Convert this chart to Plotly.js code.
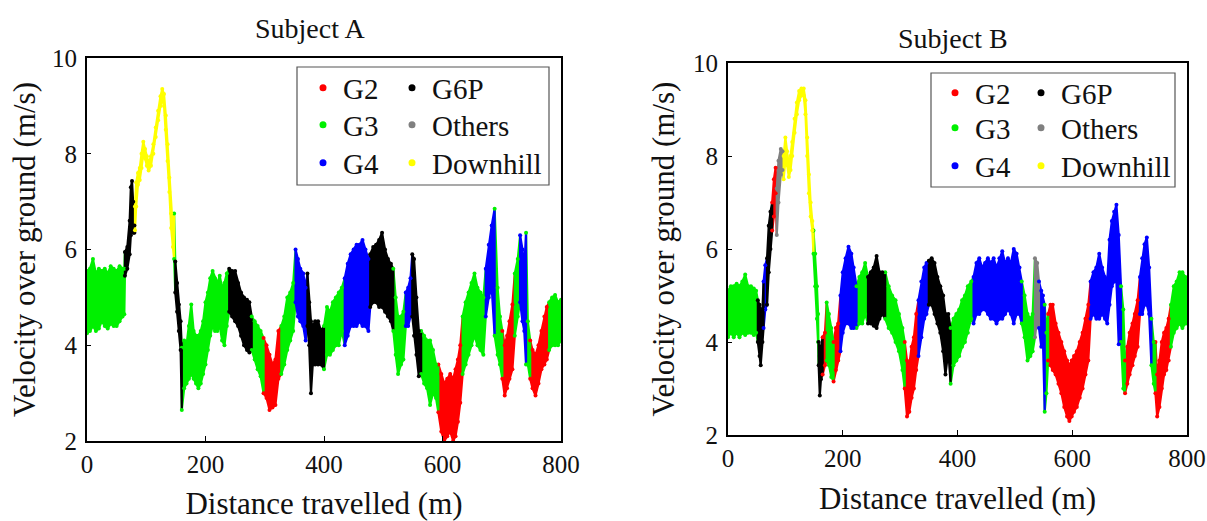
<!DOCTYPE html>
<html>
<head>
<meta charset="utf-8">
<script src="https://cdn.plot.ly/plotly-3.0.1.min.js"></script>
<style>
html,body{margin:0;padding:0;background:#ffffff;}
#chart{width:1207px;height:521px;}
</style>
</head>
<body>
<div id="chart"></div>
<script>
// ---------------- DATA ----------------
const gearNames = ['G2', 'G3', 'G4', 'G6P', 'Others', 'Downhill'];
const xTicks = [0, 200, 400, 600, 800];
const yTicks = [2, 4, 6, 8, 10];

// Subject A: distance (m), lower / upper velocity band (m/s), gear per sample
const A_dist = [
  0,5,10,15,20,25,30,35,40,45,50,55,60,63,
  64,68,72,74,76,78,80,
  81,83,86,89,92,95,98,101,104,108,112,116,120,124,127,130,133,136,139,142,145,
  147,
  149,152,155,158,
  160,164,168,172,176,180,184,188,192,196,200,204,208,212,216,220,224,228,232,236,
  240,245,250,255,260,265,270,274,
  278,283,288,293,
  298,303,308,313,318,323,
  328,333,338,343,348,
  352,356,360,365,369,
  372,375,378,381,385,390,395,
  400,405,410,415,420,425,430,
  435,440,445,450,455,460,465,470,475,
  478,483,488,493,498,503,508,513,
  517,521,525,530,534,
  538,542,546,
  549,552,556,560,
  564,569,574,579,584,589,
  593,598,603,608,613,618,622,626,630,
  634,639,644,649,654,659,664,669,
  673,678,683,
  688,693,697,
  701,705,709,713,718,
  722,727,
  731,735,738,
  741,744,
  748,752,757,762,767,772,776,
  780,785,790,795,800
];
const A_low = [
  4.25,4.3,4.4,4.3,4.35,4.5,4.4,4.35,4.45,4.4,4.4,4.5,4.6,4.65,
  5.45,5.6,5.9,6.3,6.5,6.35,6.35,
  6.4,6.9,7.35,7.45,7.7,8.0,7.9,7.75,7.65,7.75,8.0,8.35,8.7,9.0,9.15,9.0,8.5,7.85,7.2,6.45,6.05,
  5.8,
  5.1,4.7,4.3,3.9,
  2.65,3.1,3.2,3.3,3.4,3.3,3.2,3.1,3.2,3.4,3.6,3.9,4.2,4.4,4.3,4.3,4.4,4.1,4.0,4.4,
  4.7,4.6,4.5,4.4,4.2,4.0,3.9,3.85,
  3.9,3.7,3.5,3.35,
  3.0,2.9,2.65,2.7,2.75,3.3,
  3.4,3.6,3.9,4.1,4.3,
  4.9,4.6,4.5,4.4,4.1,
  4.4,4.0,3.0,3.6,3.6,3.6,3.6,
  3.5,3.8,3.8,3.9,4.0,4.0,4.3,
  4.0,4.2,4.4,4.4,4.4,4.5,4.4,4.4,4.3,
  4.8,4.9,4.9,4.8,4.8,4.7,4.6,4.5,
  4.3,3.8,3.4,3.6,3.7,
  4.4,4.4,4.6,
  4.6,4.2,3.8,3.35,
  3.4,3.2,3.1,2.75,3.0,2.9,
  2.6,2.2,2.0,2.1,2.2,2.0,2.1,2.4,2.8,
  3.4,3.6,3.8,4.0,4.2,4.0,3.9,3.8,
  4.6,5.0,5.2,
  4.2,3.8,3.6,
  3.3,2.95,3.1,3.3,3.5,
  4.2,4.6,
  4.9,4.5,4.3,
  3.6,3.6,
  3.3,3.1,2.95,3.2,3.5,3.6,3.7,
  3.9,4.0,4.0,4.0,4.1
];
const A_high = [
  5.55,5.6,5.8,5.5,5.6,5.55,5.6,5.5,5.65,5.6,5.55,5.65,5.6,5.6,
  5.95,6.05,6.6,7.3,7.43,7.0,6.5,
  6.9,7.4,7.6,7.7,8.0,8.25,8.1,7.95,7.8,7.95,8.2,8.55,8.9,9.2,9.35,9.25,8.8,8.2,7.5,6.75,6.4,
  6.75,
  5.75,5.3,4.85,4.5,
  3.95,4.1,4.0,4.4,4.85,4.3,4.2,4.2,4.3,4.5,4.9,5.1,5.4,5.55,5.4,5.3,5.45,5.2,5.3,5.5,
  5.6,5.55,5.55,5.3,5.1,5.0,4.95,4.9,
  4.6,4.5,4.4,4.3,
  4.15,4.0,3.8,3.6,3.7,4.3,
  4.4,4.6,5.0,5.1,5.3,
  6.0,5.8,5.6,5.5,5.2,
  5.5,4.9,4.5,4.4,4.5,4.5,4.3,
  4.4,4.8,4.7,4.9,5.0,5.1,5.2,
  5.4,5.7,5.9,6.0,6.1,6.1,6.2,6.0,5.8,
  5.9,6.05,6.1,6.2,6.35,6.0,5.8,5.7,
  5.6,5.0,4.6,4.6,4.7,
  5.1,5.2,5.4,
  5.9,5.8,5.0,4.3,
  4.3,4.2,4.1,4.1,3.9,3.6,
  3.6,3.4,3.2,3.3,3.4,3.3,3.5,3.7,4.0,
  4.6,4.9,5.1,5.3,5.5,5.2,5.1,5.0,
  5.6,6.1,6.5,
  6.85,5.2,4.6,
  4.3,4.0,4.2,4.5,4.85,
  5.5,5.8,
  6.3,6.0,5.6,
  6.35,4.5,
  4.1,3.9,3.8,4.0,4.3,4.6,4.8,
  4.9,5.0,5.05,4.9,4.95
];
const A_gear = [
  'G3','G3','G3','G3','G3','G3','G3','G3','G3','G3','G3','G3','G3','G3',
  'G6P','G6P','G6P','G6P','G6P','G6P','G6P',
  'Downhill','Downhill','Downhill','Downhill','Downhill','Downhill','Downhill','Downhill','Downhill','Downhill','Downhill','Downhill','Downhill','Downhill','Downhill','Downhill','Downhill','Downhill','Downhill','Downhill','Downhill',
  'G3',
  'G6P','G6P','G6P','G6P',
  'G3','G3','G3','G3','G3','G3','G3','G3','G3','G3','G3','G3','G3','G3','G3','G3','G3','G3','G3','G3',
  'G6P','G6P','G6P','G6P','G6P','G6P','G6P','G6P',
  'G3','G3','G3','G3',
  'G2','G2','G2','G2','G2','G2',
  'G3','G3','G3','G3','G3',
  'G4','G4','G4','G4','G4',
  'G6P','G6P','G6P','G6P','G6P','G6P','G6P',
  'G3','G3','G3','G3','G3','G3','G3',
  'G4','G4','G4','G4','G4','G4','G4','G4','G4',
  'G6P','G6P','G6P','G6P','G6P','G6P','G6P','G6P',
  'G3','G3','G3','G3','G3',
  'G4','G4','G4',
  'G6P','G6P','G6P','G6P',
  'G3','G3','G3','G3','G3','G3',
  'G2','G2','G2','G2','G2','G2','G2','G2','G2',
  'G3','G3','G3','G3','G3','G3','G3','G3',
  'G4','G4','G4',
  'G3','G3','G3',
  'G2','G2','G2','G2','G2',
  'G3','G3',
  'G4','G4','G4',
  'G3','G3',
  'G2','G2','G2','G2','G2','G2','G2',
  'G3','G3','G3','G3','G3'
];

// Subject B
const B_dist = [
  0,5,10,15,20,25,30,35,40,45,49,
  52,55,57,60,
  62,65,
  68,71,74,
  77,80,83,
  85,88,92,95,
  97,100,103,106,109,112,116,120,124,128,132,135,138,141,144,147,
  149,152,155,157,
  158,160,162,
  165,169,
  172,176,180,
  184,188,192,
  196,200,205,210,215,219,
  224,229,234,239,
  244,249,254,259,264,269,
  274,280,286,292,298,304,
  308,312,316,320,324,328,
  332,337,342,346,
  350,355,360,365,370,375,379,384,
  388,393,398,403,408,413,418,424,
  428,433,438,443,448,453,458,463,468,473,478,483,488,493,498,503,508,
  512,517,522,527,531,
  535,539,
  542,546,549,
  552,555,
  558,562,566,571,576,581,586,591,595,599,603,608,613,618,623,628,
  632,637,642,647,652,657,661,665,669,673,677,681,
  685,689,
  692,696,700,705,709,714,
  718,722,726,730,734,
  738,742,
  745,748,752,756,760,764,768,
  772,777,782,787,792,797,800
];
const B_low = [
  4.1,4.2,4.1,4.2,4.1,4.2,4.15,4.2,4.2,4.15,4.2,
  4.0,3.7,3.5,4.0,
  4.3,4.7,
  4.8,5.5,6.0,
  6.4,6.7,7.2,
  6.3,7.0,7.6,7.7,
  7.5,7.9,7.8,7.55,7.7,8.0,8.5,8.9,9.2,9.3,9.3,8.9,8.0,7.2,6.7,6.4,
  5.9,5.2,4.5,4.0,
  3.5,2.85,3.2,
  3.3,3.5,
  3.6,3.5,3.25,
  3.15,3.4,3.6,
  3.8,4.2,4.4,4.4,4.3,4.3,
  4.3,4.4,4.4,4.6,
  4.4,4.4,4.35,4.3,4.5,4.6,
  4.5,4.3,4.2,4.0,3.8,3.4,
  3.0,2.4,2.5,2.8,3.0,3.4,
  3.7,4.1,4.5,4.6,
  4.8,4.8,4.6,4.4,4.2,3.8,3.3,3.8,
  3.1,3.5,3.6,3.7,3.9,4.0,4.2,4.5,
  4.4,4.6,4.6,4.7,4.7,4.6,4.5,4.5,4.4,4.5,4.5,4.6,4.7,4.6,4.4,4.6,4.6,
  4.4,4.1,3.6,3.7,3.8,
  4.1,4.5,
  4.3,3.9,4.0,
  2.5,2.9,
  3.6,3.5,3.4,3.3,3.1,2.9,2.6,2.4,2.3,2.4,2.5,2.6,2.8,3.0,3.3,3.6,
  4.5,4.6,4.5,4.5,4.6,4.5,4.4,4.8,5.2,5.3,5.3,3.95,
  4.0,3.0,
  2.9,3.1,3.3,3.5,3.7,3.9,
  4.6,4.6,4.8,4.8,4.6,
  3.5,3.1,
  2.9,2.4,2.6,3.0,3.3,3.4,3.6,
  3.9,4.2,4.3,4.4,4.3,4.4,4.4
];
const B_high = [
  5.1,5.2,5.2,5.25,5.2,5.3,5.45,5.2,5.2,5.15,5.1,
  4.9,4.8,4.7,4.7,
  5.3,5.65,
  5.8,6.5,6.8,
  7.0,7.5,7.75,
  7.3,7.9,8.15,8.1,
  8.0,8.4,8.1,7.8,8.0,8.3,8.8,9.15,9.4,9.45,9.45,9.2,8.4,7.6,7.0,6.6,
  6.4,5.9,5.2,4.6,
  4.0,3.7,3.9,
  4.1,4.2,
  4.85,4.6,4.3,
  4.0,4.3,4.4,
  5.0,5.5,5.8,6.05,5.9,5.6,
  5.2,5.4,5.5,5.7,
  5.4,5.5,5.6,5.85,5.5,5.5,
  5.5,5.2,5.0,4.9,4.6,4.3,
  4.0,3.6,3.5,3.9,4.1,4.6,
  4.9,5.3,5.6,5.7,
  5.75,5.8,5.7,5.4,5.2,5.0,4.6,4.6,
  4.3,4.5,4.6,4.7,4.9,5.0,5.2,5.3,
  5.4,5.7,5.8,5.6,5.7,5.8,5.7,5.8,5.6,5.8,5.95,5.7,5.8,5.7,6.0,5.9,5.6,
  5.3,5.0,4.6,4.5,4.6,
  5.8,5.7,
  5.3,5.1,5.0,
  4.8,4.2,
  4.6,4.8,4.8,4.4,4.2,4.0,3.8,3.6,3.5,3.6,3.7,3.8,4.0,4.2,4.5,4.8,
  5.3,5.5,5.6,5.9,5.6,5.4,5.3,6.2,6.6,6.8,6.95,6.3,
  5.2,4.7,
  3.6,3.9,4.2,4.4,4.6,4.9,
  5.4,5.8,6.1,6.25,5.6,
  4.5,4.0,
  4.0,3.3,3.6,4.0,4.2,4.3,4.5,
  4.8,5.2,5.3,5.5,5.5,5.4,5.3
];
const B_gear = [
  'G3','G3','G3','G3','G3','G3','G3','G3','G3','G3','G3',
  'G6P','G6P','G6P','G6P',
  'G4','G4',
  'G6P','G6P','G6P',
  'G2','G2','G2',
  'Others','Others','Others','Others',
  'Downhill','Downhill','Downhill','Downhill','Downhill','Downhill','Downhill','Downhill','Downhill','Downhill','Downhill','Downhill','Downhill','Downhill','Downhill','Downhill',
  'G3','G3','G3','G3',
  'G6P','G6P','G6P',
  'G2','G2',
  'G3','G3','G3',
  'G2','G2','G2',
  'G4','G4','G4','G4','G4','G4',
  'G3','G3','G3','G3',
  'G6P','G6P','G6P','G6P','G6P','G6P',
  'G3','G3','G3','G3','G3','G3',
  'G2','G2','G2','G2','G2','G2',
  'G4','G4','G4','G4',
  'G6P','G6P','G6P','G6P','G6P','G6P','G6P','G6P',
  'G3','G3','G3','G3','G3','G3','G3','G3',
  'G4','G4','G4','G4','G4','G4','G4','G4','G4','G4','G4','G4','G4','G4','G4','G4','G4',
  'G3','G3','G3','G3','G3',
  'Others','Others',
  'G4','G4','G4',
  'G3','G3',
  'G2','G2','G2','G2','G2','G2','G2','G2','G2','G2','G2','G2','G2','G2','G2','G2',
  'G4','G4','G4','G4','G4','G4','G4','G4','G4','G4','G4','G4',
  'G3','G3',
  'G2','G2','G2','G2','G2','G2',
  'G4','G4','G4','G4','G4',
  'G3','G3',
  'G2','G2','G2','G2','G2','G2','G2',
  'G3','G3','G3','G3','G3','G3','G3'
];

// ---------------- STYLE ----------------
const gearColors = {
  'G2': '#ff0000', 'G3': '#00f000', 'G4': '#0000ff',
  'G6P': '#000000', 'Others': '#808080', 'Downhill': '#ffff00'
};
const serif = 'Liberation Serif, serif';
const W = 1207, H = 521;

// legend cell placement (text start px, row centre px) for each gear
const legendCellsA = {
  'G2': [343, 88], 'G3': [343, 125], 'G4': [343, 163],
  'G6P': [432, 88], 'Others': [432, 125], 'Downhill': [432, 163]
};
const legendCellsB = {
  'G2': [975, 93], 'G3': [975, 128], 'G4': [975, 166],
  'G6P': [1061, 93], 'Others': [1061, 128], 'Downhill': [1061, 166]
};

const legendLayouts = {};
function buildSubject(dist, low, high, gear, xa, ya, legendOffset, cells) {
  const fills = {}, pts = {};
  gearNames.forEach(g => { fills[g] = {x: [], y: []}; pts[g] = {x: [], y: []}; });
  let s = 0;
  for (let i = 1; i <= dist.length; i++) {
    if (i === dist.length || gear[i] !== gear[s]) {
      const g = gear[s];
      const end = Math.min(i, dist.length - 1);
      const F = fills[g];
      for (let k = s; k <= end; k++) { F.x.push(dist[k]); F.y.push(high[k]); }
      for (let k = end; k >= s; k--) { F.x.push(dist[k]); F.y.push(low[k]); }
      F.x.push(dist[s]); F.y.push(high[s]);
      F.x.push(null); F.y.push(null);
      s = i;
    }
  }
  for (let k = 0; k < dist.length; k++) {
    const P = pts[gear[k]];
    P.x.push(dist[k], dist[k]); P.y.push(low[k], high[k]);
  }
  const traces = [];
  gearNames.forEach(g => {
    traces.push({
      type: 'scatter', mode: 'lines', x: fills[g].x, y: fills[g].y,
      xaxis: xa, yaxis: ya, fill: 'toself', fillcolor: gearColors[g],
      line: {color: gearColors[g], width: 2.2}, showlegend: false, hoverinfo: 'skip'
    });
  });
  gearNames.forEach(g => {
    traces.push({
      type: 'scatter', mode: 'markers', x: pts[g].x, y: pts[g].y,
      xaxis: xa, yaxis: ya, marker: {color: gearColors[g], size: 4},
      showlegend: false, hoverinfo: 'skip'
    });
  });
  gearNames.forEach((g, j) => {
    const n = legendOffset + j;
    const id = n === 1 ? 'legend' : 'legend' + n;
    const c = cells[g];
    legendLayouts[id] = {
      x: (c[0] - 40) / W, y: 1 - c[1] / H, xanchor: 'left', yanchor: 'middle',
      orientation: 'v', bgcolor: 'rgba(0,0,0,0)', borderwidth: 0,
      font: {family: serif, size: 29, color: '#111'}
    };
    traces.push({
      type: 'scatter', mode: 'markers', x: [null], y: [null], name: g,
      xaxis: xa, yaxis: ya, marker: {color: gearColors[g], size: 7},
      legend: id, showlegend: true
    });
  });
  return traces;
}

const data = [].concat(
  buildSubject(A_dist, A_low, A_high, A_gear, 'x', 'y', 1, legendCellsA),
  buildSubject(B_dist, B_low, B_high, B_gear, 'x2', 'y2', 7, legendCellsB)
);

function xAxis(domain, anchor, standoff) {
  return {
    domain: domain, anchor: anchor, range: [0, 800], tickvals: xTicks,
    showline: true, mirror: true, linecolor: '#000', linewidth: 2,
    ticks: 'inside', ticklen: 5, tickcolor: '#000', showgrid: false, zeroline: false,
    tickfont: {family: serif, size: 25, color: '#111'},
    title: {text: 'Distance travelled (m)', font: {family: serif, size: 31, color: '#111'}, standoff: standoff}
  };
}
function yAxis(domain, anchor, standoff) {
  return {
    domain: domain, anchor: anchor, range: [2, 10], tickvals: yTicks,
    showline: true, mirror: true, linecolor: '#000', linewidth: 2,
    ticks: 'inside', ticklen: 4, tickcolor: '#000', showgrid: false, zeroline: false,
    ticklabelstandoff: 3,
    tickfont: {family: serif, size: 25, color: '#111'},
    title: {text: 'Velocity over ground (m/s)', font: {family: serif, size: 31, color: '#111'}, standoff: standoff}
  };
}

const layout = Object.assign({
  width: W, height: H,
  margin: {l: 0, r: 0, t: 0, b: 0},
  paper_bgcolor: '#fff', plot_bgcolor: '#fff',
  showlegend: true,
  xaxis: xAxis([87 / W, 561 / W], 'y', 21),
  yaxis: yAxis([80 / H, 463 / H], 'x', 7),
  xaxis2: xAxis([728 / W, 1187 / W], 'y2', 16),
  yaxis2: yAxis([86 / H, 458 / H], 'x2', 9),
  shapes: [
    {type: 'rect', xref: 'paper', yref: 'paper', x0: 297 / W, x1: 549 / W, y0: 1 - 185 / H, y1: 1 - 67 / H,
     line: {color: '#555', width: 1.2}, fillcolor: '#fff', layer: 'above'},
    {type: 'rect', xref: 'paper', yref: 'paper', x0: 931 / W, x1: 1175 / W, y0: 1 - 187 / H, y1: 1 - 73 / H,
     line: {color: '#555', width: 1.2}, fillcolor: '#fff', layer: 'above'}
  ],
  annotations: [
    {text: 'Subject A', xref: 'paper', yref: 'paper', x: 310 / W, y: 1 - 28 / H,
     xanchor: 'center', yanchor: 'middle', showarrow: false, font: {family: serif, size: 28, color: '#111'}},
    {text: 'Subject B', xref: 'paper', yref: 'paper', x: 953 / W, y: 1 - 38 / H,
     xanchor: 'center', yanchor: 'middle', showarrow: false, font: {family: serif, size: 28, color: '#111'}}
  ]
}, legendLayouts);

Plotly.newPlot('chart', data, layout, {staticPlot: true, displayModeBar: false});
</script>
</body>
</html>
